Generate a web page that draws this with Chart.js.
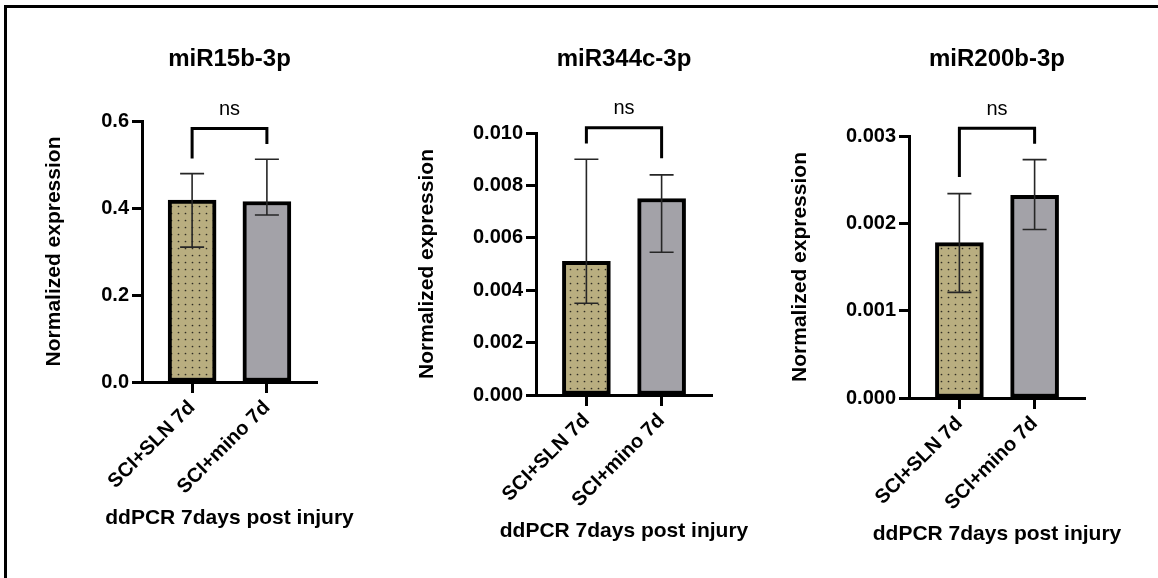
<!DOCTYPE html>
<html>
<head>
<meta charset="utf-8">
<title>ddPCR 7days post injury</title>
<script src="https://cdn.jsdelivr.net/npm/chart.js@4/dist/chart.umd.min.js"></script>
<style>
  html, body { margin: 0; padding: 0; background: #fff; }
  #wrap { position: relative; width: 1158px; height: 578px; overflow: hidden; background: #fff; }
  #wrap canvas { position: absolute; left: 0; top: 0; }
  #frame { position: absolute; left: 4px; top: 5px; right: -10px; bottom: -10px;
           border-top: 3px solid #000; border-left: 3px solid #000; }
</style>
</head>
<body>
<div id="wrap">
  <div id="frame"></div>
  <canvas id="panel1" width="1158" height="578"></canvas>
  <canvas id="panel2" width="1158" height="578"></canvas>
  <canvas id="panel3" width="1158" height="578"></canvas>
</div>
<script>
// ---- data ----
const groups = ['SCI+SLN 7d', 'SCI+mino 7d'];
const xAxisTitle = 'ddPCR 7days post injury';
const yAxisTitle = 'Normalized expression';
const significance = 'ns';

// miR15b-3p
const mir15bMean = [0.418, 0.415];
const mir15bLow = [0.310, 0.384];
const mir15bHigh = [0.479, 0.512];
const mir15bTicks = ['0.0', '0.2', '0.4', '0.6'];
const mir15bBracket = [0.583, 0.514, 0.547];   // top, left leg end, right leg end

// miR344c-3p
const mir344cMean = [0.0051, 0.0075];
const mir344cLow = [0.0035, 0.00545];
const mir344cHigh = [0.0090, 0.0084];
const mir344cTicks = ['0.000', '0.002', '0.004', '0.006', '0.008', '0.010'];
const mir344cBracket = [0.0102, 0.0096, 0.00904];

// miR200b-3p
const mir200bMean = [0.00178, 0.00232];
const mir200bLow = [0.00121, 0.00193];
const mir200bHigh = [0.00234, 0.00273];
const mir200bTicks = ['0.000', '0.001', '0.002', '0.003'];
const mir200bBracket = [0.00309, 0.00253, 0.00291];

// ---- styling ----
const FONT = '"Liberation Sans", Arial, Helvetica, sans-serif';
Chart.defaults.font.family = FONT;
Chart.defaults.color = '#000';

const CANVAS_W = 1158, CANVAS_H = 578;
const X_SCALE_HEIGHT = 149;

function makeDots() {
  const t = document.createElement('canvas');
  t.width = 7; t.height = 7;
  const g = t.getContext('2d');
  g.fillStyle = '#b9ae80';
  g.fillRect(0, 0, 7, 7);
  g.fillStyle = '#2f2c22';
  g.beginPath();
  g.arc(3.5, 3.5, 0.85, 0, Math.PI * 2);
  g.fill();
  return g.createPattern(t, 'repeat');
}
const dotFill = makeDots();
const greyFill = '#a3a2a8';

// error bars, significance bracket with its label, and the x-axis caption
function annotations(low, high, bracket, label, captionY) {
  return {
    id: 'annotations',
    afterDatasetsDraw(chart) {
      const { ctx, scales: { x, y } } = chart;
      ctx.save();
      ctx.strokeStyle = '#262626';
      ctx.lineWidth = 1.6;
      low.forEach((lo, i) => {
        const cx = x.getPixelForValue(i);
        const yl = y.getPixelForValue(lo);
        const yh = y.getPixelForValue(high[i]);
        ctx.beginPath();
        ctx.moveTo(cx, yl); ctx.lineTo(cx, yh);
        ctx.moveTo(cx - 12, yl); ctx.lineTo(cx + 12, yl);
        ctx.moveTo(cx - 12, yh); ctx.lineTo(cx + 12, yh);
        ctx.stroke();
      });
      const x0 = x.getPixelForValue(0), x1 = x.getPixelForValue(1);
      const yt = y.getPixelForValue(bracket[0]);
      ctx.strokeStyle = '#000';
      ctx.lineWidth = 3;
      ctx.lineJoin = 'miter';
      ctx.beginPath();
      ctx.moveTo(x0, y.getPixelForValue(bracket[1]));
      ctx.lineTo(x0, yt);
      ctx.lineTo(x1, yt);
      ctx.lineTo(x1, y.getPixelForValue(bracket[2]));
      ctx.stroke();
      ctx.fillStyle = '#000';
      ctx.font = '20px ' + FONT;
      ctx.textAlign = 'center';
      ctx.textBaseline = 'middle';
      ctx.fillText(label, (x0 + x1) / 2, yt - 19);
      ctx.restore();
    },
    afterDraw(chart) {
      const { ctx, chartArea } = chart;
      ctx.save();
      ctx.fillStyle = '#000';
      ctx.font = 'bold 21px ' + FONT;
      ctx.textAlign = 'center';
      ctx.textBaseline = 'middle';
      ctx.fillText(xAxisTitle, (chartArea.left + chartArea.right) / 2, captionY);
      ctx.restore();
    }
  };
}

function makePanel(id, title, mean, low, high, tickLabels, bracket, box) {
  const tickValues = tickLabels.map(Number);
  const yWidth = box.left - box.yTitleX + 12.6;
  const titleLH = 24 * 1.2;
  new Chart(document.getElementById(id), {
    type: 'bar',
    data: {
      datasets: [{
        data: mean.map((v, i) => ({ x: i, y: v })),
        backgroundColor: [dotFill, greyFill],
        borderColor: '#000',
        borderWidth: 4,
        borderSkipped: false,
        barThickness: 48
      }]
    },
    options: {
      responsive: false,
      animation: false,
      devicePixelRatio: 1,
      events: [],
      layout: {
        padding: {
          left: box.left - yWidth,
          right: CANVAS_W - box.right,
          top: 0,
          bottom: CANVAS_H - box.bottom - X_SCALE_HEIGHT
        }
      },
      plugins: {
        legend: { display: false },
        tooltip: { enabled: false },
        title: {
          display: true,
          fullSize: false,
          text: title,
          color: '#000',
          font: { size: 24, weight: 'bold' },
          padding: { top: box.titleY - titleLH / 2, bottom: box.top - box.titleY - titleLH / 2 }
        }
      },
      scales: {
        x: {
          type: 'linear',
          offset: false,
          bounds: 'data',
          min: -0.67,
          max: 1.67,
          afterBuildTicks: (s) => { s.ticks = groups.map((g, i) => ({ value: i })); },
          afterFit: (s) => { s.height = X_SCALE_HEIGHT; },
          ticks: {
            autoSkip: false,
            minRotation: 45,
            maxRotation: 45,
            color: '#000',
            font: { size: 20, weight: 'bold' },
            callback: (v, i) => groups[i]
          },
          grid: { offset: false, drawOnChartArea: false, tickLength: 11, tickWidth: 3, tickColor: '#000' },
          border: { display: true, width: 3, color: '#000' }
        },
        y: {
          min: tickValues[0],
          max: tickValues[tickValues.length - 1],
          afterBuildTicks: (s) => { s.ticks = tickValues.map(v => ({ value: v })); },
          afterFit: (s) => { s.width = yWidth; },
          ticks: {
            color: '#000',
            padding: 3,
            font: { size: 20, weight: 'bold' },
            callback: (v, i) => tickLabels[i]
          },
          grid: { drawOnChartArea: false, tickLength: 10, tickWidth: 3, tickColor: '#000' },
          border: { display: true, width: 3, color: '#000' },
          title: {
            display: true,
            text: yAxisTitle,
            color: '#000',
            padding: 0,
            font: { size: 21, weight: 'bold' }
          }
        }
      }
    },
    plugins: [annotations(low, high, bracket, significance, box.captionY)]
  });
}

makePanel('panel1', 'miR15b-3p', mir15bMean, mir15bLow, mir15bHigh, mir15bTicks, mir15bBracket,
  { left: 142, top: 121, right: 317, bottom: 382, yTitleX: 54, titleY: 59, captionY: 518 });
makePanel('panel2', 'miR344c-3p', mir344cMean, mir344cLow, mir344cHigh, mir344cTicks, mir344cBracket,
  { left: 536, top: 133, right: 712, bottom: 395, yTitleX: 427, titleY: 59, captionY: 531 });
makePanel('panel3', 'miR200b-3p', mir200bMean, mir200bLow, mir200bHigh, mir200bTicks, mir200bBracket,
  { left: 909, top: 136, right: 1085, bottom: 398, yTitleX: 800, titleY: 59, captionY: 534 });
</script>
</body>
</html>
